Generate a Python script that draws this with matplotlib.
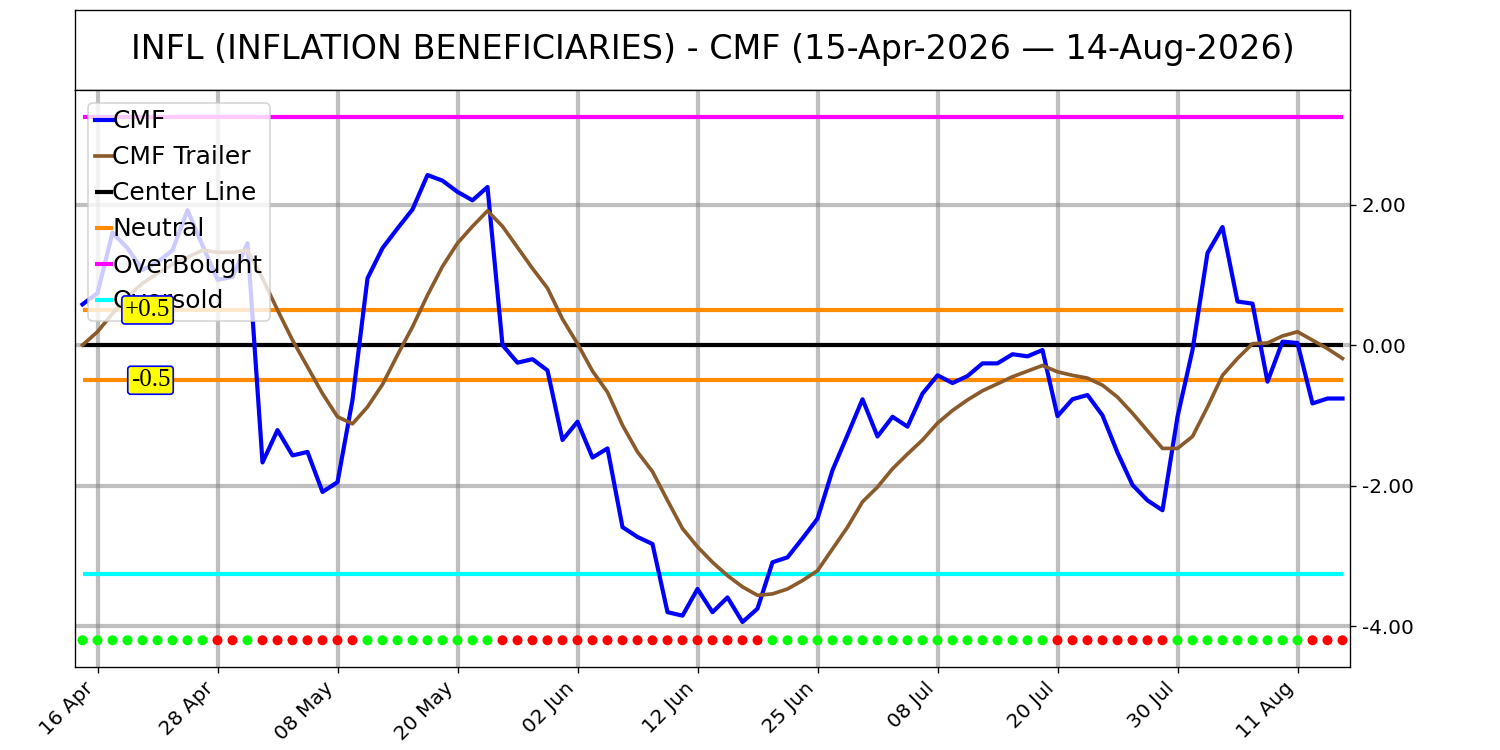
import matplotlib
matplotlib.use("Agg")
import matplotlib.pyplot as plt
import pandas as pd

# ============================================================
# Data
# ============================================================

TICKER = "INFL"
NAME = "INFLATION BENEFICIARIES"

# US trading days 15-Apr-2026 .. 14-Aug-2026
HOLIDAYS = ["2026-05-25", "2026-06-19", "2026-07-03"]
dates = pd.bdate_range("2026-04-15", "2026-08-14", freq="C", holidays=HOLIDAYS)

cmf = [
    0.58, 0.74, 1.60, 1.38, 1.07, 1.18, 1.35, 1.92, 1.42, 0.93,
    0.97, 1.45, -1.67, -1.21, -1.57, -1.52, -2.09, -1.95, -0.78, 0.95,
    1.38, 1.66, 1.93, 2.42, 2.34, 2.18, 2.06, 2.25, 0.00, -0.25,
    -0.20, -0.36, -1.35, -1.09, -1.60, -1.47, -2.59, -2.73, -2.83, -3.80,
    -3.85, -3.47, -3.80, -3.59, -3.94, -3.75, -3.09, -3.02, -2.75, -2.47,
    -1.78, -1.28, -0.77, -1.30, -1.02, -1.16, -0.69, -0.43, -0.54, -0.44,
    -0.26, -0.26, -0.13, -0.16, -0.07, -1.01, -0.77, -0.71, -1.00, -1.53,
    -1.99, -2.21, -2.35, -1.02, -0.07, 1.31, 1.68, 0.62, 0.59, -0.52,
    0.05, 0.03, -0.83, -0.76, -0.76,
]

cmf_trailer = [
    0.00, 0.19, 0.45, 0.68, 0.88, 1.02, 1.15, 1.25, 1.35, 1.32,
    1.32, 1.35, 0.95, 0.50, 0.07, -0.31, -0.69, -1.02, -1.12, -0.88,
    -0.56, -0.14, 0.26, 0.71, 1.12, 1.45, 1.69, 1.91, 1.69, 1.39,
    1.09, 0.81, 0.37, 0.02, -0.37, -0.67, -1.14, -1.52, -1.80, -2.21,
    -2.61, -2.87, -3.09, -3.28, -3.44, -3.56, -3.54, -3.47, -3.35, -3.21,
    -2.90, -2.59, -2.23, -2.02, -1.76, -1.55, -1.35, -1.11, -0.93, -0.78,
    -0.65, -0.55, -0.45, -0.37, -0.29, -0.38, -0.43, -0.47, -0.57, -0.74,
    -0.97, -1.22, -1.47, -1.47, -1.30, -0.88, -0.43, -0.19, 0.02, 0.03,
    0.13, 0.19, 0.07, -0.05, -0.19,
]

# 1 = bullish (green dot), 0 = bearish (red dot)
signal = [
    1, 1, 1, 1, 1, 1, 1, 1, 1, 0,
    0, 1, 0, 0, 0, 0, 0, 0, 0, 1,
    1, 1, 1, 1, 1, 1, 1, 1, 0, 0,
    0, 0, 0, 0, 0, 0, 0, 0, 0, 0,
    0, 0, 0, 0, 0, 0, 1, 1, 1, 1,
    1, 1, 1, 1, 1, 1, 1, 1, 1, 1,
    1, 1, 1, 1, 1, 0, 0, 0, 0, 0,
    0, 0, 0, 1, 1, 1, 1, 1, 1, 1,
    1, 1, 0, 0, 0,
]

CENTER = 0.0
NEUTRAL_UP = 0.5
NEUTRAL_DN = -0.5
OVERBOUGHT = 3.25
OVERSOLD = -3.25
SIGNAL_LEVEL = -4.2

# ============================================================
# Graph
# ============================================================


def plot_cmf():
    n = len(dates)
    x = list(range(n))

    fig = plt.figure(figsize=(12.5, 6.25), dpi=120)
    ax_title = fig.add_axes([0.05, 0.88, 0.85, 0.1067])
    ax = fig.add_axes([0.05, 0.1107, 0.85, 0.7693])

    ax_title.set_xticks([])
    ax_title.set_yticks([])
    title = (
        f"{TICKER} ({NAME}) - CMF "
        f"({dates[0].strftime('%d-%b-%Y')} \u2014 {dates[-1].strftime('%d-%b-%Y')})"
    )
    ax_title.text(0.5, 0.5, title, ha="center", va="center", fontsize=20)

    ax.plot(x, cmf, color="blue", lw=2.5, label="CMF", zorder=4)
    ax.plot(x, cmf_trailer, color="#8B5A2B", lw=2.2, label="CMF Trailer", zorder=4)
    ax.hlines(CENTER, x[0], x[-1], color="black", lw=2.5, label="Center Line", zorder=3)
    ax.hlines(NEUTRAL_UP, x[0], x[-1], color="darkorange", lw=2.5, label="Neutral", zorder=3)
    ax.hlines(NEUTRAL_DN, x[0], x[-1], color="darkorange", lw=2.5, zorder=3)
    ax.hlines(OVERBOUGHT, x[0], x[-1], color="magenta", lw=2.5, label="OverBought", zorder=3)
    ax.hlines(OVERSOLD, x[0], x[-1], color="cyan", lw=2.5, label="Oversold", zorder=3)

    colors = ["lime" if s else "red" for s in signal]
    ax.scatter(x, [SIGNAL_LEVEL] * n, c=colors, s=36, zorder=4, linewidths=0)

    box = dict(boxstyle="round,pad=0.12", fc="yellow", ec="blue", lw=1.0)
    ax.text(5.85, NEUTRAL_UP, "+0.5", ha="right", va="center", fontsize=15,
            family="Liberation Serif", bbox=box, zorder=10)
    ax.text(5.85, NEUTRAL_DN, "-0.5", ha="right", va="center", fontsize=15,
            family="Liberation Serif", bbox=box, zorder=10)

    ax.set_xlim(-0.5, n - 0.5)
    ax.set_ylim(-4.58, 3.63)

    ticks = x[1::8]
    ax.set_xticks(ticks)
    ax.set_xticklabels([dates[i].strftime("%d %b") for i in ticks],
                       rotation=45, ha="right", fontsize=12)
    ax.set_yticks([-4, -2, 0, 2])
    ax.set_yticklabels([f"{v:.2f}" for v in [-4, -2, 0, 2]], fontsize=12)
    ax.yaxis.tick_right()
    ax.grid(True, color="gray", lw=2.5, alpha=0.5)
    ax.set_axisbelow(True)

    ax.legend(loc="upper left", fontsize=15, handlelength=0.72, handletextpad=0,
              borderaxespad=0.5, labelspacing=0.48, borderpad=0.28)

    fig.savefig("out.png")
    plt.close(fig)


if __name__ == "__main__":
    plot_cmf()
